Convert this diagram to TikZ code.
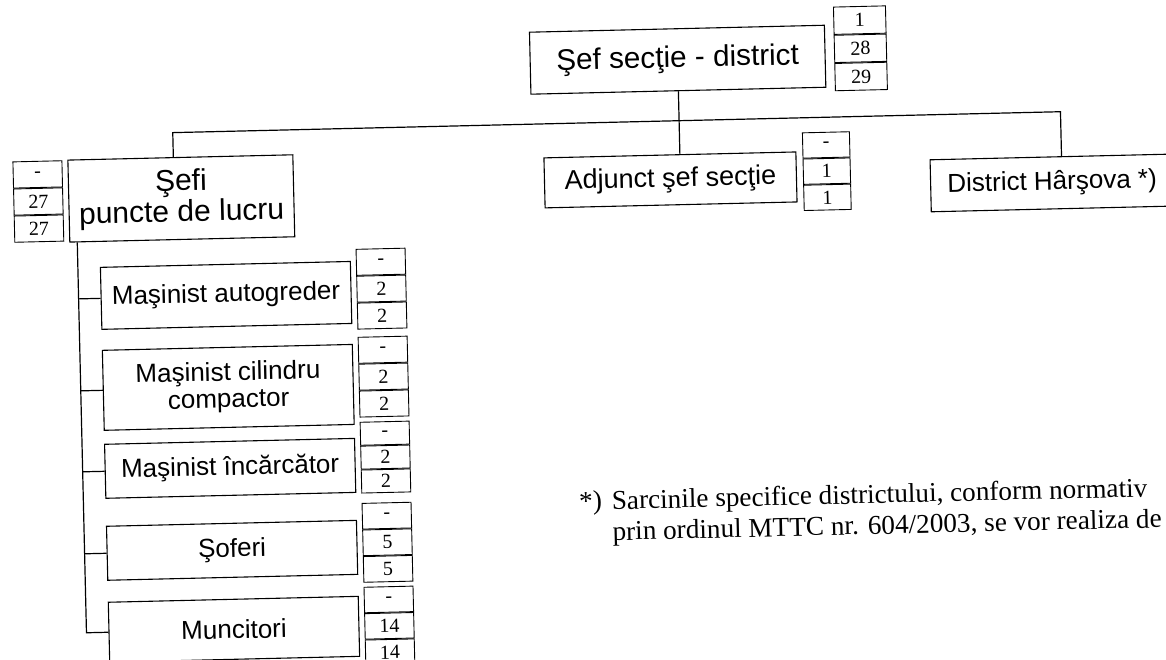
\documentclass[tikz,border=0pt]{standalone}
\usepackage{fontspec}
\setmainfont{Liberation Serif}
\setsansfont{Liberation Sans}
\usetikzlibrary{positioning}

\begin{document}
\begin{tikzpicture}[x=1pt,y=-1pt,
  box/.style={draw,line width=1.1pt,inner sep=0pt,align=center,font=\sffamily\fontsize{26}{27}\selectfont},
  cell/.style={draw,line width=0.9pt,inner sep=0pt,minimum width=49pt,minimum height=26pt,font=\fontsize{20}{20}\selectfont},
  link/.style={line width=1.2pt},
  note/.style={inner sep=0pt,font=\fontsize{27.2}{27}\selectfont}]

\useasboundingbox (0,0) rectangle (1166,659);
\clip (0,0) rectangle (1166,659);
\begin{scope}[transform canvas={rotate around={1.35:(583,330)}}]

% -- sef sectie
\node[box,minimum width=295pt,minimum height=62pt,font=\sffamily\fontsize{29.7}{28}\selectfont] (sef) at (684,62) {Şef secţie - district};
\node[cell,minimum width=52pt,minimum height=27.3pt] (sef1) at (867,26.7) {1};
\node[cell,minimum width=52pt,minimum height=27.3pt,below=0pt of sef1] (sef2) {28};
\node[cell,minimum width=52pt,minimum height=27.3pt,below=0pt of sef2] (sef3) {29};

% -- sefi puncte de lucru
\node[box,minimum width=225pt,minimum height=82pt,font=\sffamily\fontsize{30}{31}\selectfont] (sefi) at (184.5,189) {Şefi\\puncte de lucru};
\node[cell,minimum height=26.2pt] (sefi1) at (41.5,161.6) {-};
\node[cell,minimum height=26.2pt,below=0pt of sefi1] (sefi2) {27};
\node[cell,minimum height=26.2pt,below=0pt of sefi2] (sefi3) {27};

% -- adjunct
\node[box,minimum width=252pt,minimum height=50pt,font=\sffamily\fontsize{27}{26}\selectfont] (adj) at (674,182) {Adjunct şef secţie};
\node[cell,minimum width=47pt,minimum height=25.3pt] (adj1) at (830.5,150.7) {-};
\node[cell,minimum width=47pt,minimum height=25.3pt,below=0pt of adj1] (adj2) {1};
\node[cell,minimum width=47pt,minimum height=25.3pt,below=0pt of adj2] (adj3) {1};

% -- district
\node[box,minimum width=243pt,minimum height=52pt] (dis) at (1055.5,194) {District Hârşova *)};

% -- personal
\node[box,minimum width=250pt,minimum height=62pt] (ma) at (227,287) {Maşinist autogreder};
\node[cell] (ma1) at (382.5,257) {-};
\node[cell,below=0pt of ma1] (ma2) {2};
\node[cell,below=0pt of ma2] (ma3) {2};

\node[box,minimum width=250pt,minimum height=80pt] (mc) at (227,379) {Maşinist cilindru\\compactor};
\node[cell] (mc1) at (382.5,345) {-};
\node[cell,below=0pt of mc1] (mc2) {2};
\node[cell,below=0pt of mc2] (mc3) {2};

\node[box,minimum width=250pt,minimum height=54pt] (mi) at (227,460) {Maşinist încărcător};
\node[cell,minimum height=23pt] (mi1) at (382.5,428.5) {-};
\node[cell,minimum height=23pt,below=0pt of mi1] (mi2) {2};
\node[cell,minimum height=23pt,below=0pt of mi2] (mi3) {2};

\node[box,minimum width=250pt,minimum height=54pt] (so) at (227,542) {Şoferi};
\node[cell,minimum height=25.7pt] (so1) at (382.5,511) {-};
\node[cell,minimum height=25.7pt,below=0pt of so1] (so2) {5};
\node[cell,minimum height=25.7pt,below=0pt of so2] (so3) {5};

\node[box,minimum width=250pt,minimum height=60pt] (mu) at (227,621) {Muncitori};
\node[cell,minimum height=25.5pt] (mu1) at (382.5,594.8) {-};
\node[cell,minimum height=25.5pt,below=0pt of mu1] (mu2) {14};
\node[cell,minimum height=25.5pt,below=0pt of mu2] (mu3) {14};

% -- legaturi
\coordinate (bar) at (684,123);
\draw[link] ([xshift=-7pt]sefi.north) |- (bar) -| ([xshift=10pt]dis.north);
\draw[link] (sef.south) -- (sef.south |- adj.north);

\coordinate (ax) at ([xshift=8pt]sefi.south west);
\draw[link] (ax) |- (mu.west);
\draw[link] (ax |- ma.west) -- (ma.west);
\draw[link] (ax |- mc.west) -- (mc.west);
\draw[link] (ax |- mi.west) -- (mi.west);
\draw[link] (ax |- so.west) -- (so.west);

% -- nota
\node[note,anchor=west] (nota) at (575,520) {\begin{tabular}{@{}l@{\hskip 10pt}l@{}}*) & Sarcinile specifice districtului, conform normativ\\[4pt] & prin ordinul MTTC nr. 604/2003, se vor realiza de\end{tabular}};

\end{scope}
\end{tikzpicture}
\end{document}
